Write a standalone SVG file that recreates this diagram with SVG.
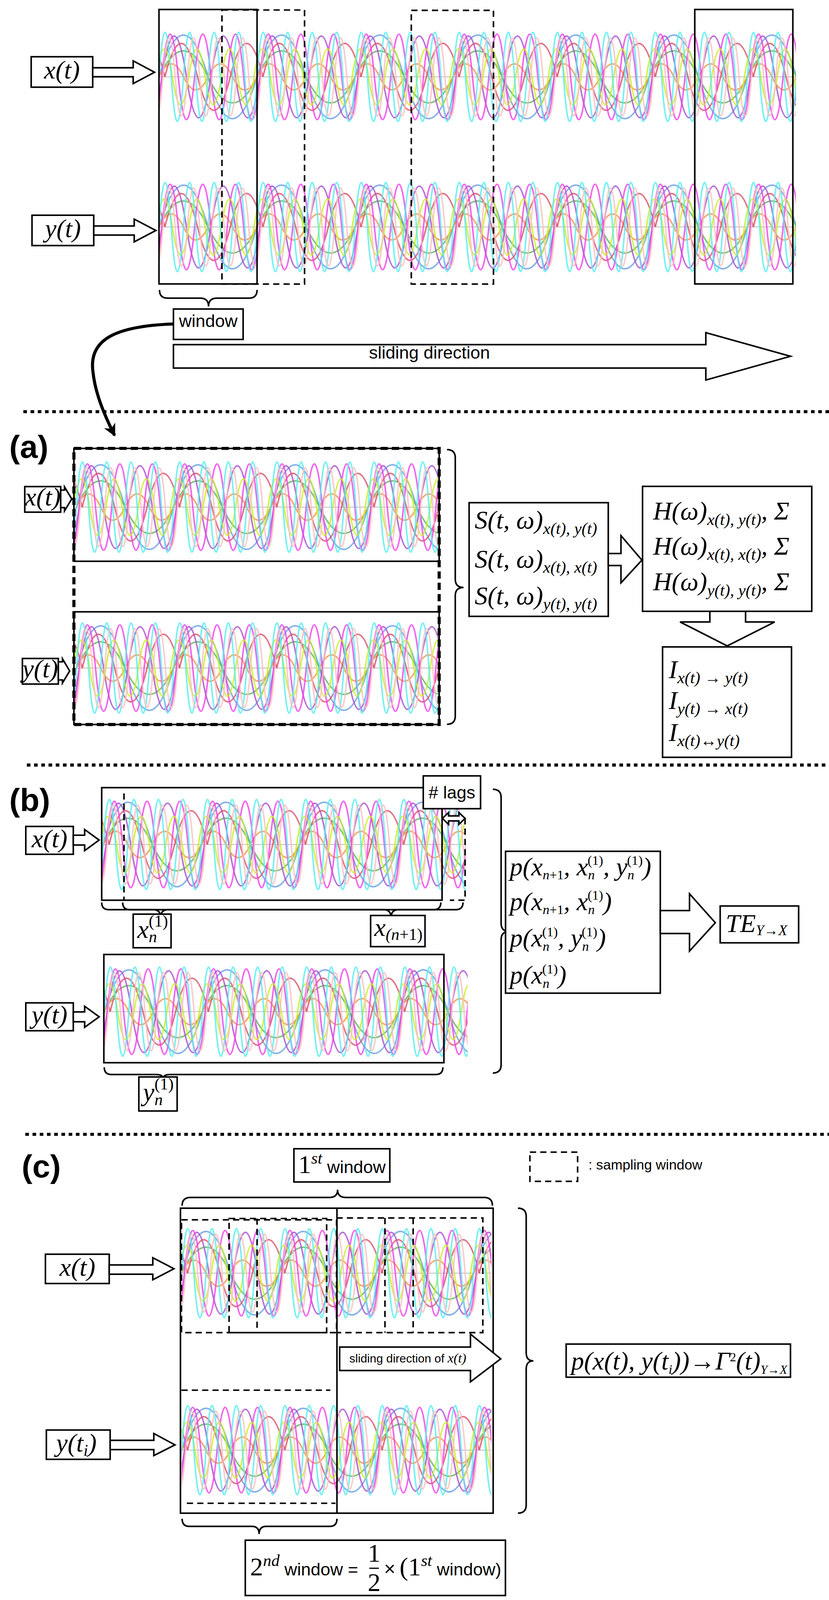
<svg xmlns="http://www.w3.org/2000/svg" xmlns:xlink="http://www.w3.org/1999/xlink" width="2121" height="4114" viewBox="0 0 2121 4114">
<style>
.b{fill:#fff;stroke:#000;stroke-width:1.5}
.n{fill:none;stroke:#000;stroke-width:1.5}
.d{fill:none;stroke:#000;stroke-width:1.5;stroke-dasharray:6,4}
.dot{fill:none;stroke:#000;stroke-width:3;stroke-dasharray:3.5,3.5}
.m{font-family:"Liberation Serif",serif;font-style:italic;font-size:25px;fill:#000}
.s{font-size:16px}
.r{font-style:normal}
.sa{font-family:"Liberation Sans",Arial,sans-serif;font-style:normal;fill:#000}
.lab{font-family:"Liberation Sans Narrow","Liberation Sans",Arial,sans-serif;font-weight:bold;font-size:31px}
.w path{fill:none;stroke-width:4;vector-effect:non-scaling-stroke;stroke-opacity:.8}
</style>
<defs>
<g id="wt" class="w">
<path stroke="#6a9fe0" d="M0,50 q25,-90 50,0 t50,0"/>
<path stroke="#5cb85c" d="M0,50 q25,-56 50,0 t50,0"/>
<path stroke="#f5934a" d="M0,50 q12.5,-28 25,0 t25,0 t25,0 t25,0"/>
<path stroke="#a84ccc" d="M3,50 q12.5,-88 25,0 t25,0 t25,0 t25,0"/>
<path stroke="#d9506a" d="M6,50 q16.667,-72 33.333,0 t33.333,0 t33.333,0"/>
<path stroke="#f040e8" d="M3,50 q8.333,-92 16.667,0 t16.667,0 t16.667,0 t16.667,0 t16.667,0 t16.667,0"/>
<path stroke="#c8f020" d="M-3,50 q8.333,-60 16.667,0 t16.667,0 t16.667,0 t16.667,0 t16.667,0 t16.667,0"/>
<path stroke="#55eef0" d="M0,50 q6.25,-96 12.5,0 t12.5,0 t12.5,0 t12.5,0 t12.5,0 t12.5,0 t12.5,0 t12.5,0"/>
<path stroke="#f7c0c0" d="M4,50 q6.25,-84 12.5,0 t12.5,0 t12.5,0 t12.5,0 t12.5,0 t12.5,0 t12.5,0 t12.5,0"/>
</g>
<g id="wr">
<path d="M0,50 H1100" stroke="#bbb" stroke-width="2" vector-effect="non-scaling-stroke"/>
<use xlink:href="#wt" x="-100"/><use xlink:href="#wt"/><use xlink:href="#wt" x="100"/><use xlink:href="#wt" x="200"/><use xlink:href="#wt" x="300"/><use xlink:href="#wt" x="400"/><use xlink:href="#wt" x="500"/><use xlink:href="#wt" x="600"/><use xlink:href="#wt" x="700"/><use xlink:href="#wt" x="800"/>
</g>
<clipPath id="c1"><rect x="154" y="20" width="617" height="110"/></clipPath>
<clipPath id="c2"><rect x="154" y="165" width="617" height="110"/></clipPath>
<clipPath id="c3"><rect x="72" y="435" width="353" height="109"/></clipPath>
<clipPath id="c4"><rect x="72" y="593" width="353" height="109"/></clipPath>
<clipPath id="c5"><rect x="99" y="764" width="352" height="108"/></clipPath>
<clipPath id="c6"><rect x="101" y="926" width="352" height="104"/></clipPath>
<clipPath id="c7"><rect x="176" y="1183" width="300" height="105"/></clipPath>
<clipPath id="c8"><rect x="176" y="1352" width="300" height="105"/></clipPath>
<marker id="ah" viewBox="0 0 10 10" refX="9" refY="5" markerWidth="4" markerHeight="4" orient="auto"><path d="M0,0 L10,5 L0,10 L3,5 z" fill="#000"/></marker>
</defs>
<rect width="2121" height="4114" fill="#fff"/>
<g transform="scale(2.6413)">
<g id="waves">
<g clip-path="url(#c1)"><use xlink:href="#wr" transform="translate(154,29.5) scale(.95,.9)"/></g>
<g clip-path="url(#c2)"><use xlink:href="#wr" transform="translate(154,175) scale(.95,.9)"/></g>
<g clip-path="url(#c3)"><use xlink:href="#wr" transform="translate(74,446) scale(.942,.91)"/></g>
<g clip-path="url(#c4)"><use xlink:href="#wr" transform="translate(74,602) scale(.942,.91)"/></g>
<g clip-path="url(#c5)"><use xlink:href="#wr" transform="translate(100,773) scale(.951,.91)"/></g>
<g clip-path="url(#c6)"><use xlink:href="#wr" transform="translate(101,935.5) scale(.951,.9)"/></g>
<g clip-path="url(#c7)"><use xlink:href="#wr" transform="translate(176,1189) scale(.942,.9)"/></g>
<g clip-path="url(#c8)"><use xlink:href="#wr" transform="translate(176,1360.5) scale(.942,.9)"/></g>
</g>

<!-- top section -->
<g id="top-frames">
<rect class="n" x="154" y="9.2" width="95" height="266"/>
<rect class="d" x="215" y="9.7" width="80" height="265.6"/>
<rect class="d" x="398.4" y="10" width="79.6" height="265.3"/>
<rect class="n" x="673" y="9.2" width="95" height="266"/>
</g>
<g id="top-x"><rect class="b" x="30.2" y="55" width="59.6" height="29.5"/><text class="m" x="60" y="76" font-size="22" text-anchor="middle">x(t)</text>
<polygon class="b" points="89.8,65.7 129,65.7 129,59 149.7,70 129,81 129,74.4 89.8,74.4"/></g>
<g id="top-y"><rect class="b" x="31" y="208.6" width="59.8" height="29.4"/><text class="m" x="61" y="230" font-size="22" text-anchor="middle">y(t)</text>
<polygon class="b" points="90.8,219 130,219 130,212.4 151,223.4 130,234.4 130,227.8 90.8,227.8"/></g>
<g id="window"><path class="n" d="M154.5,281 q0,8 8,8 L194,289 q8,0 8,8 q0,-8 8,-8 L241,289 q8,0 8,-8"/>
<rect class="b" x="168" y="299.5" width="67.5" height="29.5"/><text class="sa" x="201.7" y="316.8" font-size="17" text-anchor="middle">window</text></g>
<g id="sliding"><polygon class="b" points="168,334 683.7,334 683.7,322.4 765.7,345.3 683.7,368.3 683.7,356.7 168,356.7"/>
<text class="sa" x="357.4" y="347.7" font-size="17">sliding direction</text></g>
<g id="connectors"><path d="M168,314 C110,316 86,330 90,360 C92,380 100,400 111,422" fill="none" stroke="#000" stroke-width="3" marker-end="url(#ah)"/></g>
<path class="dot" d="M22.6,399 H803"/>

<!-- (a) -->
<text class="lab" x="9" y="443.8">(a)</text>
<g id="a-frames">
<rect class="n" x="71.6" y="434.6" width="353.8" height="109.4"/>
<rect class="n" x="71.6" y="593" width="353.8" height="109.2"/>
<rect x="71.6" y="434.6" width="353.8" height="267.6" fill="none" stroke="#000" stroke-width="3" stroke-dasharray="7,4"/>
</g>
<g id="a-x"><rect class="b" x="24" y="471.6" width="34.8" height="24.8"/><text class="m" x="41.4" y="490" font-size="20" text-anchor="middle">x(t)</text>
<polygon class="b" points="58.8,475 62.5,475 62.5,472 69.5,483.6 62.5,495.2 62.5,492 58.8,492"/></g>
<g id="a-y"><rect class="b" x="21.7" y="638.2" width="34.8" height="24.8"/><text class="m" x="39" y="656.5" font-size="20" text-anchor="middle">y(t)</text>
<polygon class="b" points="56.5,641.5 60.5,641.5 60.5,638.5 67.5,650.3 60.5,662 60.5,659 56.5,659"/></g>
<path class="n" d="M433,435.8 q8,0 8,8 L441,561.4 q0,8 8,8 q-8,0 -8,8 L441,694 q0,8 -8,8"/>
<g id="a-S"><rect class="b" x="454.4" y="487.2" width="134.8" height="110.2"/>
<text class="m" x="459.8" y="512.4">S(t, ω)<tspan class="s" dy="5">x(t), y(t)</tspan></text>
<text class="m" x="459.8" y="550">S(t, ω)<tspan class="s" dy="5">x(t), x(t)</tspan></text>
<text class="m" x="459.8" y="585.8">S(t, ω)<tspan class="s" dy="5">y(t), y(t)</tspan></text></g>
<polygon class="b" points="589.2,536.5 601.5,536.5 601.5,519.1 621.8,542.9 601.5,564.9 601.5,548.1 589.2,548.1"/>
<g id="a-H"><rect class="b" x="622.4" y="471.4" width="163.9" height="121.1"/>
<text class="m" x="632.6" y="503.7">H(ω)<tspan class="s" dy="5">x(t), y(t)</tspan><tspan dy="-5">,  Σ</tspan></text>
<text class="m" x="632.6" y="537.5">H(ω)<tspan class="s" dy="5">x(t), x(t)</tspan><tspan dy="-5">,  Σ</tspan></text>
<text class="m" x="632.6" y="572.2">H(ω)<tspan class="s" dy="5">y(t), y(t)</tspan><tspan dy="-5">,  Σ</tspan></text></g>
<polygon class="b" points="687.6,592.5 687.6,602.8 658.7,602.8 704.4,626 750.4,602.8 722.2,602.8 722.2,592.5"/>
<g id="a-I"><rect class="b" x="641.8" y="627" width="124.9" height="107"/>
<text class="m" x="647.8" y="657.3">I<tspan class="s" dy="5">x(t) → y(t)</tspan></text>
<text class="m" x="647.8" y="687.2">I<tspan class="s" dy="5">y(t) → x(t)</tspan></text>
<text class="m" x="647.8" y="718.1">I<tspan class="s" dy="5">x(t)↔y(t)</tspan></text></g>
<path class="dot" d="M26,741.5 H803"/>

<!-- (b) -->
<text class="lab" x="9" y="786">(b)</text>
<rect class="n" x="98.5" y="763.4" width="329.7" height="109.1"/>
<path class="d" d="M120.1,769 V872.5 M450.5,793 V872.5 H435.8"/>
<g id="lags"><rect class="b" x="410" y="752" width="55.5" height="31.8"/><text class="sa" x="437.7" y="774" font-size="17" text-anchor="middle"># lags</text>
<polygon class="b" points="428.5,793.2 434.5,787.5 434.5,790.8 444.5,790.8 444.5,787.5 450.5,793.2 444.5,799 444.5,795.6 434.5,795.6 434.5,799"/></g>
<g id="b-x"><rect class="b" x="25" y="801" width="46" height="27"/><text class="m" x="48" y="821" font-size="21" text-anchor="middle">x(t)</text>
<polygon class="b" points="71,809.5 82,809.5 82,804 96,814.2 82,824.4 82,819 71,819"/></g>
<path class="n" d="M98.5,874.7 q0,7 7,7 L148.6,881.7 q7,0 7,8 q0,-8 7,-8 L420,881.7 q7,0 7,-7"/>
<path class="n" d="M118.8,874.7 q0,7 7,7 L371.8,881.7 q7,0 7,8 q0,-8 7,-8 L441.5,881.7 q7,0 7,-7"/>
<g id="xn1"><rect class="b" x="129" y="886" width="36.7" height="32.6"/><text class="m" x="133" y="909" font-size="21">x<tspan class="s" dy="4">n</tspan><tspan class="s r" dx="-8" dy="-15">(1)</tspan></text></g>
<g id="xn+1"><rect class="b" x="359" y="887.3" width="52.7" height="30.2"/><text class="m" x="362.5" y="907" font-size="21">x<tspan class="s" dy="4">(n<tspan class="r">+1)</tspan></tspan></text></g>
<rect class="n" x="100.6" y="925.1" width="329.4" height="104.9"/>
<g id="b-y"><rect class="b" x="25" y="972" width="46" height="27"/><text class="m" x="48" y="992" font-size="21" text-anchor="middle">y(t)</text>
<polygon class="b" points="71,980.8 82,980.8 82,975.3 96,985.5 82,995.7 82,990.3 71,990.3"/></g>
<path class="n" d="M101,1034.4 q0,7 7,7 L151,1041.4 q7,0 7,4 q0,-4 7,-4 L422,1041.4 q7,0 7,-7"/>
<g id="yn1"><rect class="b" x="134.5" y="1043.8" width="37.1" height="33"/><text class="m" x="138.5" y="1067" font-size="21">y<tspan class="s" dy="4">n</tspan><tspan class="s r" dx="-8" dy="-15">(1)</tspan></text></g>
<path class="n" d="M477.4,765 q8,0 8,8 L485.4,894.8 q0,8 8,8 q-8,0 -8,8 L485.4,1032 q0,8 -8,8"/>
<g id="b-p" font-size="19"><rect class="b" x="489.7" y="825.1" width="149.9" height="137.5"/>
<text class="m" x="493.8" y="848.3" font-size="19">p(x<tspan font-size="13" dy="4">n<tspan class="r">+1</tspan></tspan><tspan dy="-4">, x</tspan><tspan font-size="13" dy="4">n</tspan><tspan class="r" font-size="13" dx="-7" dy="-14">(1)</tspan><tspan dy="10">, y</tspan><tspan font-size="13" dy="4">n</tspan><tspan class="r" font-size="13" dx="-7" dy="-14">(1)</tspan><tspan dy="10">)</tspan></text>
<text class="m" x="493.8" y="882" font-size="19">p(x<tspan font-size="13" dy="4">n<tspan class="r">+1</tspan></tspan><tspan dy="-4">, x</tspan><tspan font-size="13" dy="4">n</tspan><tspan class="r" font-size="13" dx="-7" dy="-14">(1)</tspan><tspan dy="10">)</tspan></text>
<text class="m" x="493.8" y="917.4" font-size="19">p(x<tspan font-size="13" dy="4">n</tspan><tspan class="r" font-size="13" dx="-7" dy="-14">(1)</tspan><tspan dy="10">, y</tspan><tspan font-size="13" dy="4">n</tspan><tspan class="r" font-size="13" dx="-7" dy="-14">(1)</tspan><tspan dy="10">)</tspan></text>
<text class="m" x="493.8" y="953.5" font-size="19">p(x<tspan font-size="13" dy="4">n</tspan><tspan class="r" font-size="13" dx="-7" dy="-14">(1)</tspan><tspan dy="10">)</tspan></text></g>
<polygon class="b" points="639.6,882.5 667.9,882.5 667.9,866.3 692.9,894.3 667.9,921.8 667.9,904.8 639.6,904.8"/>
<g id="TE"><rect class="b" x="697.6" y="878.1" width="76" height="35.7"/><text class="m" x="703" y="903.5" font-size="22">TE<tspan font-size="14" dy="3">Y→X</tspan></text></g>
<path class="dot" d="M24.5,1099.4 H803"/>

<!-- (c) -->
<text class="lab" x="21" y="1141">(c)</text>
<g id="first"><rect class="b" x="284.7" y="1113.4" width="92.9" height="32.2"/><text class="m r" x="289" y="1137">1<tspan class="s" dy="-9" font-style="italic" font-size="13">st</tspan><tspan class="sa" dy="9" font-size="17"> window</tspan></text></g>
<path class="n" d="M176.4,1168.6 q0,-8 8,-8 L319,1160.6 q8,0 8,-7.5 q0,7.5 8,7.5 L469,1160.6 q8,0 8,8"/>
<g id="legend"><rect class="d" x="513.3" y="1116.7" width="46.2" height="28.3"/><text class="sa" x="570" y="1133.7" font-size="13.5">: sampling window</text></g>
<rect class="n" x="174.8" y="1171" width="302.9" height="295.6"/>
<path class="n" d="M326.4,1171 V1466.6"/>
<path class="d" d="M175.8,1182.3 H326 V1291.6 H175.8 Z M221.9,1181 H316.4 V1291.6 H221.9 Z M249,1181 V1291.6 M326,1180.5 H467.7 V1291.6 H326 M372.9,1180.5 V1291.6 M400.2,1180.5 V1291.6 M175.8,1347.4 H320 M181,1457 H325"/>
<g id="c-slide"><polygon class="b" points="329,1305.6 455.7,1305.6 455.7,1293 485,1317 455.7,1339.3 455.7,1328.3 329,1328.3"/>
<text class="sa" x="338.4" y="1320.5" font-size="11.5">sliding direction of <tspan font-family="Liberation Serif" font-style="italic" font-size="13">x(t)</tspan></text></g>
<g id="c-x"><rect class="b" x="44" y="1215.6" width="61.8" height="28.4"/><text class="m" x="75" y="1236.5" font-size="22" text-anchor="middle">x(t)</text>
<polygon class="b" points="105.8,1226 148,1226 148,1219 168.5,1229.7 148,1240.4 148,1235 105.8,1235"/></g>
<g id="c-y"><rect class="b" x="44.9" y="1386" width="61.8" height="28.4"/><text class="m" x="74" y="1407" font-size="22" text-anchor="middle">y(t<tspan class="s" dy="4">i</tspan><tspan dy="-4">)</tspan></text>
<polygon class="b" points="106.7,1396 149,1396 149,1389.4 169.5,1400.4 149,1410.8 149,1405 106.7,1405"/></g>
<path class="n" d="M501.7,1171 q8,0 8,8 L509.7,1311 q0,8 7,8 q-7,0 -7,8 L509.7,1458.6 q0,8 -8,8"/>
<g id="gamma"><rect class="b" x="548.4" y="1302.7" width="217.3" height="32.1"/>
<text class="m" x="553.2" y="1327.5" font-size="18">p(x(t), y(t<tspan font-size="13" dy="4">i</tspan><tspan dy="-4">))→Γ</tspan><tspan class="r" font-size="12" dy="-8">2</tspan><tspan dy="8">(t)</tspan><tspan font-size="12" dy="4">Y→X</tspan></text></g>
<path class="n" d="M176.4,1472 q0,7.4 7,7.4 L244,1479.4 q7,0 7,7.4 q0,-7.4 7,-7.4 L319.4,1479.4 q7,0 7,-7.4"/>
<g id="second"><rect class="b" x="237.6" y="1492.8" width="252" height="53.6"/>
<text class="m r" x="242.3" y="1527">2<tspan class="s" dy="-9" font-style="italic" font-size="13">nd</tspan><tspan class="sa" dy="9" font-size="17"> window = </tspan></text>
<text class="m r" x="362.4" y="1513.6" font-size="18" text-anchor="middle">1</text><path d="M357.8,1520 H367" stroke="#000" stroke-width="1.2"/><text class="m r" x="362.4" y="1542" font-size="18" text-anchor="middle">2</text>
<text class="sa" x="372" y="1527" font-size="19">×</text>
<text class="m r" x="387" y="1527">(1<tspan class="s" dy="-9" font-style="italic" font-size="13">st</tspan><tspan class="sa" dy="9" font-size="17"> window)</tspan></text></g>
</g>
</svg>
